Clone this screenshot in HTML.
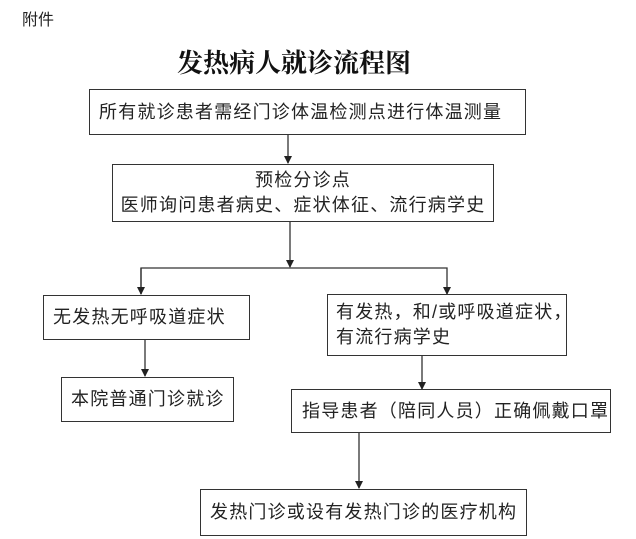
<!DOCTYPE html>
<html><head><meta charset="utf-8"><style>
body{margin:0;width:636px;height:539px;background:#fff;position:relative;overflow:hidden;font-family:"Liberation Sans","Noto Sans CJK SC",sans-serif;color:#222}
.t{position:absolute;white-space:nowrap}
.b{position:absolute;border:1.5px solid #333;box-sizing:border-box;font-size:18px;letter-spacing:1.2px;line-height:25px;display:flex;flex-direction:column;justify-content:center;white-space:nowrap}
</style></head><body>
<div class="t" style="left:22px;top:6px;font-size:16px">附件</div>
<div class="t" style="left:177px;top:43px;font-size:26px;font-weight:bold;font-family:'Liberation Serif','Noto Serif CJK SC',serif;color:#111">发热病人就诊流程图</div>
<svg width="636" height="539" style="position:absolute;left:0;top:0">
<defs><marker id="a" markerWidth="8" markerHeight="8" refX="7" refY="4" orient="auto" markerUnits="userSpaceOnUse"><path d="M0,0 L8,4 L0,8 z" fill="#222"/></marker></defs>
<g stroke="#333" stroke-width="1.3" fill="none">
<line x1="288" y1="135" x2="288" y2="163" marker-end="url(#a)"/>
<line x1="290" y1="222" x2="290" y2="267" marker-end="url(#a)"/>
<polyline points="141,294 141,268 447,268 447,294" marker-end="url(#a)"/>
<line x1="141" y1="268" x2="141" y2="294" marker-end="url(#a)"/>
<line x1="145" y1="339" x2="145" y2="376" marker-end="url(#a)"/>
<line x1="422" y1="356" x2="422" y2="389" marker-end="url(#a)"/>
<line x1="359" y1="432" x2="359" y2="488" marker-end="url(#a)"/>
</g></svg>
<div class="b" style="left:89px;top:89px;width:437px;height:46px;padding-left:9px">所有就诊患者需经门诊体温检测点进行体温测量</div>
<div class="b" style="left:112px;top:164px;width:382px;height:58px;align-items:center">预检分诊点<br><span>医师询问患者病史、症状体征、流行病学史</span></div>
<div class="b" style="left:43px;top:295px;width:207px;height:45px;padding-left:9px">无发热无呼吸道症状</div>
<div class="b" style="left:327px;top:294px;width:240px;height:62px;padding-left:8px">有发热，和/或呼吸道症状，<br>有流行病学史</div>
<div class="b" style="left:61px;top:377px;width:173px;height:45px;padding-left:9px">本院普通门诊就诊</div>
<div class="b" style="left:291px;top:389px;width:320px;height:44px;padding-left:10px">指导患者（陪同人员）正确佩戴口罩</div>
<div class="b" style="left:200px;top:489px;width:327px;height:47px;padding-left:9px">发热门诊或设有发热门诊的医疗机构</div>
</body></html>
